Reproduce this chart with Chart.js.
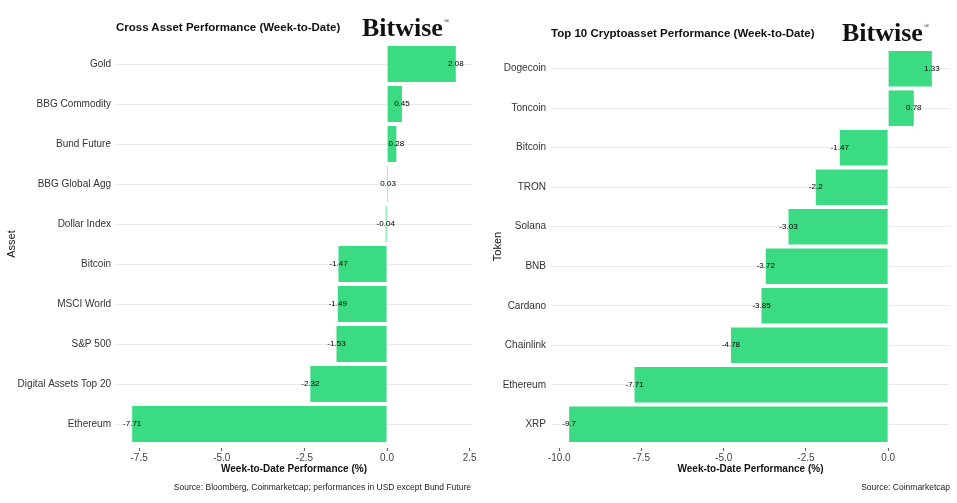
<!DOCTYPE html>
<html>
<head>
<meta charset="utf-8">
<script src="https://cdn.jsdelivr.net/npm/chart.js@4"></script>
<style>
  body { margin: 0; background: #fff; font-family: "Liberation Sans", Arial, sans-serif; }
  #wrap { position: relative; width: 957px; height: 503px; overflow: hidden; }
  .panel { position: absolute; top: 0; height: 503px; }
  .title { position: absolute; font-weight: bold; font-size: 11.5px; color: #111; white-space: nowrap; }
  .logo { position: absolute; font-family: "Liberation Serif", "Times New Roman", serif; font-weight: bold; font-size: 26px; color: #111; white-space: nowrap; }
  .logo sup { font-size: 7px; font-weight: normal; vertical-align: top; position: relative; top: 4px; margin-left: 1px; }
  .source { position: absolute; font-size: 8.5px; color: #222; white-space: nowrap; }
</style>
</head>
<body>
<div id="wrap">
  <div class="panel" style="left:0;width:478px"><canvas id="left"></canvas></div>
  <div class="panel" style="left:478px;width:479px"><canvas id="right"></canvas></div>
  <div class="title" style="left:116px;top:21px">Cross Asset Performance (Week-to-Date)</div>
  <div class="logo" style="left:362px;top:13px">Bitwise<sup>®</sup></div>
  <div class="title" style="left:551px;top:27px">Top 10 Cryptoasset Performance (Week-to-Date)</div>
  <div class="logo" style="left:842px;top:18px">Bitwise<sup>®</sup></div>
  <div class="source" style="right:486px;top:482px">Source: Bloomberg, Coinmarketcap; performances in USD except Bund Future</div>
  <div class="source" style="right:7px;top:482px">Source: Coinmarketcap</div>
</div>
<script>
// cross asset panel
var assets = ['Gold', 'BBG Commodity', 'Bund Future', 'BBG Global Agg', 'Dollar Index', 'Bitcoin', 'MSCI World', 'S&P 500', 'Digital Assets Top 20', 'Ethereum'];
var assetPerf = [2.08, 0.45, 0.28, 0.03, -0.04, -1.47, -1.49, -1.53, -2.32, -7.71];
var assetTicks = [-7.5, -5.0, -2.5, 0.0, 2.5];

// top 10 crypto panel
var tokens = ['Dogecoin', 'Toncoin', 'Bitcoin', 'TRON', 'Solana', 'BNB', 'Cardano', 'Chainlink', 'Ethereum', 'XRP'];
var tokenPerf = [1.33, 0.78, -1.47, -2.2, -3.03, -3.72, -3.85, -4.78, -7.71, -9.7];
var tokenTicks = [-10.0, -7.5, -5.0, -2.5, 0.0];

var green = '#3bdb83';
var font = '"Liberation Sans", Arial, sans-serif';

var valueLabels = {
  id: 'valueLabels',
  afterDatasetsDraw: function(chart) {
    var ctx = chart.ctx;
    var meta = chart.getDatasetMeta(0);
    var vals = chart.data.datasets[0].data;
    ctx.save();
    ctx.font = '8px ' + font;
    ctx.fillStyle = '#000';
    ctx.textAlign = 'center';
    ctx.textBaseline = 'middle';
    meta.data.forEach(function(bar, i) {
      ctx.fillText(String(vals[i].x), bar.x, bar.y);
    });
    ctx.restore();
  }
};

function makeChart(id, cats, vals, ticks, yTitle, opt) {
  var span = Math.max.apply(null, vals) - Math.min.apply(null, vals);
  var xmin = Math.min(0, Math.min.apply(null, vals)) - span * 0.05;
  var xmax = Math.max(0, Math.max.apply(null, vals)) + span * 0.05;
  var n = cats.length;
  return new Chart(document.getElementById(id), {
    type: 'bar',
    data: {
      datasets: [{
        data: vals.map(function(v, i) { return { x: v, y: i }; }),
        backgroundColor: green,
        borderWidth: 0,
        barPercentage: 1,
        categoryPercentage: 0.9
      }]
    },
    options: {
      indexAxis: 'y',
      responsive: true,
      maintainAspectRatio: false,
      animation: false,
      layout: { padding: { left: 0, right: opt.right, top: opt.top, bottom: 28 } },
      plugins: { legend: { display: false }, tooltip: { enabled: false } },
      scales: {
        x: {
          type: 'linear',
          min: xmin,
          max: xmax,
          afterBuildTicks: function(s) { s.ticks = ticks.map(function(t) { return { value: t }; }); },
          afterFit: function(s) { s.height = 27; },
          border: { display: false },
          grid: { drawOnChartArea: false, drawTicks: true, tickLength: 3, tickColor: '#666', tickWidth: 1.2, offset: false },
          ticks: { padding: 1, color: '#444', font: { family: font, size: 10 }, maxRotation: 0,
                   callback: function(v) { return v.toFixed(1); } },
          title: { display: true, text: 'Week-to-Date Performance (%)', color: '#111',
                   font: { family: font, size: 10, weight: 'bold' }, padding: 0 }
        },
        y: {
          type: 'linear',
          reverse: true,
          offset: false,
          min: -0.6,
          max: n - 1 + 0.6,
          afterBuildTicks: function(s) { s.ticks = cats.map(function(c, i) { return { value: i }; }); },
          afterFit: function(s) { s.width = opt.yWidth; },
          border: { display: false },
          grid: { color: '#ebebeb', lineWidth: 1, drawTicks: false, offset: false },
          ticks: { padding: 5, color: '#333', font: { family: font, size: 10 },
                   callback: function(v) { return cats[v]; } },
          title: { display: true, text: yTitle, color: '#111', font: { family: font, size: 11 },
                   padding: { top: opt.titlePad, bottom: 0 } }
        }
      }
    },
    plugins: [valueLabels]
  });
}

makeChart('left', assets, assetPerf, assetTicks, 'Asset', { right: 6, top: 40, yWidth: 116, titlePad: 5 });
makeChart('right', tokens, tokenPerf, tokenTicks, 'Token', { right: 7, top: 45, yWidth: 73, titlePad: 13 });
</script>
</body>
</html>
